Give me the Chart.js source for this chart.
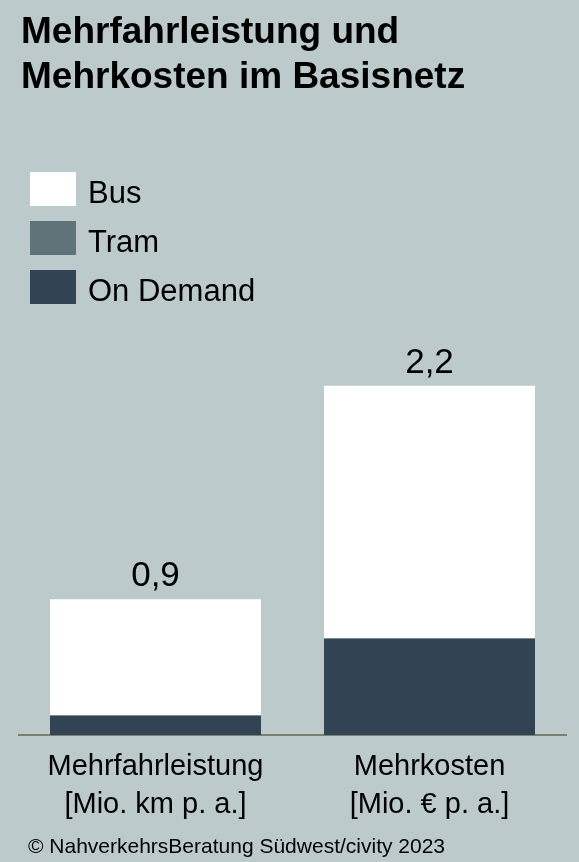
<!DOCTYPE html>
<html lang="de">
<head>
<meta charset="utf-8">
<title>Mehrfahrleistung und Mehrkosten im Basisnetz</title>
<script src="https://cdn.jsdelivr.net/npm/chart.js@4/dist/chart.umd.min.js"></script>
<style>
    html, body {
        margin: 0;
        padding: 0;
        background: #bdcacb;
    }
    .chart-box {
        position: relative;
        width: 579px;
        height: 862px;
    }
</style>
</head>
<body>
<div class="chart-box">
    <canvas id="basisnetzChart"></canvas>
</div>
<script>
'use strict';

// Kategorien und Werte (Mio. km bzw. Mio. EUR pro Jahr)
const categories = [
    ['Mehrfahrleistung', '[Mio. km p. a.]'],
    ['Mehrkosten', '[Mio. € p. a.]']
];
const busValues = [0.73, 1.59];
const tramValues = [0.005, 0.005];
const onDemandValues = [0.12, 0.605];

const titleLines = ['Mehrfahrleistung und', 'Mehrkosten im Basisnetz'];
const sourceText = '© NahverkehrsBeratung Südwest/civity 2023';

const FONT = '"Liberation Sans", Arial, Helvetica, sans-serif';
const colors = {
    bus: '#ffffff',
    tram: '#5f7479',
    onDemand: '#324354',
    axis: '#7c806f',
    text: '#000000'
};

function formatValue(value) {
    return value.toFixed(1).replace('.', ',');
}

// Summe eines gestapelten Balkens
function stackTotal(chart, index) {
    return chart.data.datasets.reduce(function(sum, ds) {
        return sum + ds.data[index];
    }, 0);
}

// Titel, Legende und Quellenangabe
const frameTextPlugin = {
    id: 'frameText',
    afterDraw: function(chart) {
        const ctx = chart.ctx;
        ctx.save();
        ctx.fillStyle = colors.text;
        ctx.textAlign = 'left';
        ctx.textBaseline = 'alphabetic';

        ctx.font = 'bold 37px ' + FONT;
        titleLines.forEach(function(line, i) {
            ctx.fillText(line, 21, 43 + i * 44.6);
        });

        // Legende von oben nach unten: Bus, Tram, On Demand
        const legendItems = chart.data.datasets.slice().reverse();
        ctx.font = '31px ' + FONT;
        legendItems.forEach(function(ds, i) {
            const top = 172 + i * 49;
            ctx.fillStyle = ds.backgroundColor;
            ctx.fillRect(30, top, 46, 34);
            ctx.fillStyle = colors.text;
            ctx.fillText(ds.label, 88, top + 31);
        });

        ctx.font = '21px ' + FONT;
        ctx.fillText(sourceText, 28, 853);
        ctx.restore();
    }
};

// Summenwerte über den Balken
const totalsPlugin = {
    id: 'stackTotals',
    afterDatasetsDraw: function(chart) {
        const ctx = chart.ctx;
        const xScale = chart.scales.x;
        const yScale = chart.scales.y;
        ctx.save();
        ctx.font = '35px ' + FONT;
        ctx.fillStyle = colors.text;
        ctx.textAlign = 'center';
        ctx.textBaseline = 'alphabetic';
        chart.data.labels.forEach(function(label, i) {
            const total = stackTotal(chart, i);
            const x = xScale.getPixelForValue(i);
            const y = yScale.getPixelForValue(total);
            ctx.fillText(formatValue(total), x, y - 13);
        });
        ctx.restore();
    }
};

const ctx = document.getElementById('basisnetzChart').getContext('2d');

new Chart(ctx, {
    type: 'bar',
    data: {
        labels: categories,
        datasets: [
            {
                label: 'On Demand',
                data: onDemandValues,
                backgroundColor: colors.onDemand
            },
            {
                label: 'Tram',
                data: tramValues,
                backgroundColor: colors.tram
            },
            {
                label: 'Bus',
                data: busValues,
                backgroundColor: colors.bus
            }
        ]
    },
    options: {
        responsive: true,
        maintainAspectRatio: false,
        animation: false,
        datasets: {
            bar: {
                barPercentage: 0.77,
                categoryPercentage: 1
            }
        },
        layout: {
            padding: { top: 338, bottom: 25, left: 18.5, right: 12.5 }
        },
        plugins: {
            legend: { display: false },
            title: { display: false },
            tooltip: { enabled: false }
        },
        scales: {
            x: {
                stacked: true,
                grid: { display: false, drawTicks: false },
                border: { display: true, color: colors.axis, width: 2 },
                ticks: {
                    color: colors.text,
                    padding: 13,
                    font: { family: FONT, size: 29, lineHeight: 1.31 }
                }
            },
            y: {
                stacked: true,
                display: false,
                min: 0,
                max: 2.5
            }
        }
    },
    plugins: [totalsPlugin, frameTextPlugin]
});
</script>
</body>
</html>
